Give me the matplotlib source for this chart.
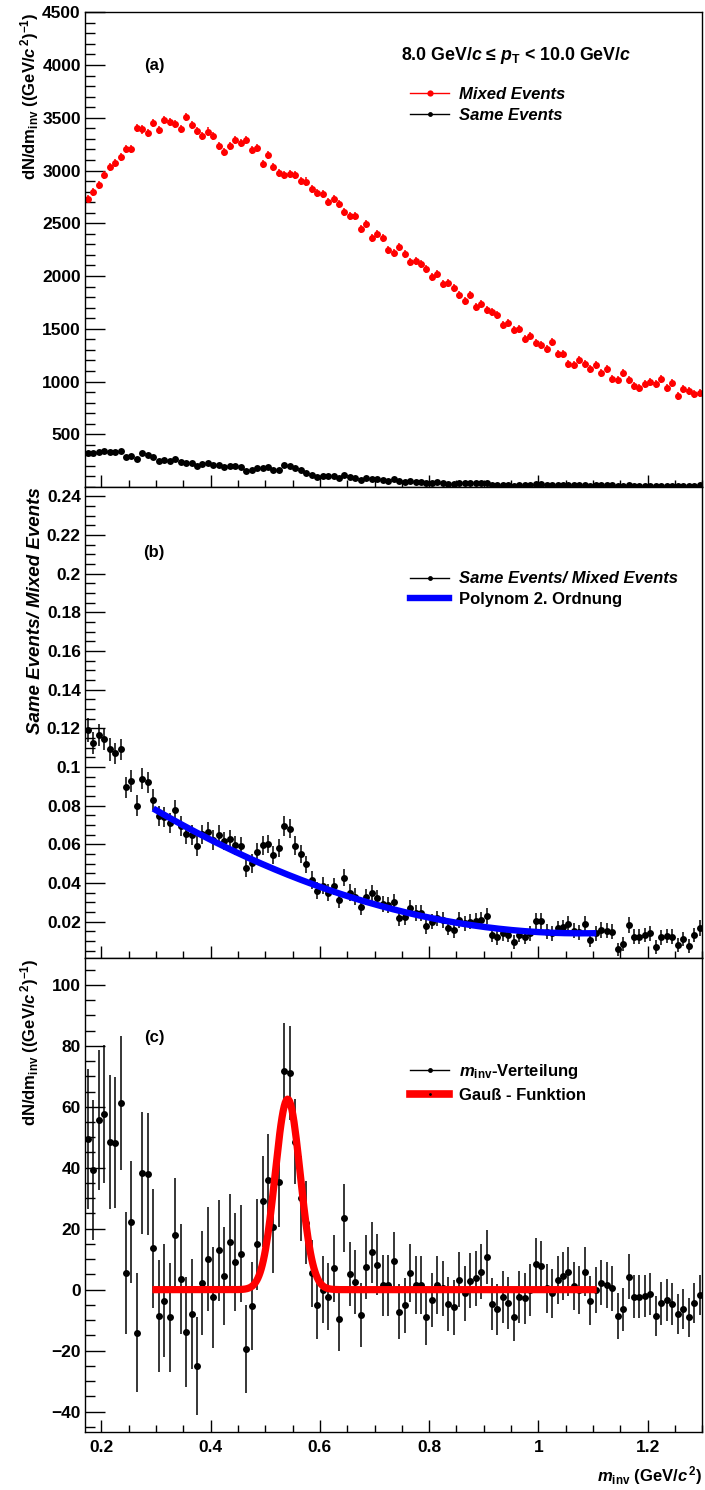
import numpy as np
import matplotlib
matplotlib.use('Agg')
import matplotlib.pyplot as plt
from matplotlib.lines import Line2D
from matplotlib.ticker import MultipleLocator, FixedLocator, FuncFormatter

plt.rcParams['font.family'] = ['Liberation Sans', 'DejaVu Sans']
plt.rcParams['font.weight'] = 'bold'
plt.rcParams['mathtext.fontset'] = 'custom'
plt.rcParams['mathtext.rm'] = 'Liberation Sans:bold'
plt.rcParams['mathtext.it'] = 'Liberation Sans:bold:italic'
plt.rcParams['mathtext.bf'] = 'Liberation Sans:bold'

# binning: 0.01 GeV/c^2 bins from 0.17 to 1.30
x_lo, bin_w, n_bins = 0.17, 0.01, 113
m_inv = x_lo + bin_w * (np.arange(n_bins) + 0.5)

# (a) mixed and same event distributions
mixed = [2728, 2801, 2867, 2962, 3035, 3070, 3130, 3200, 3200, 3399,
         3389, 3358, 3446, 3383, 3478, 3456, 3443, 3392, 3503, 3430,
         3377, 3332, 3370, 3332, 3228, 3180, 3237, 3288, 3260, 3288,
         3190, 3212, 3066, 3146, 3038, 2978, 2959, 2965, 2959, 2902,
         2896, 2823, 2785, 2782, 2699, 2734, 2687, 2608, 2570, 2570,
         2443, 2491, 2361, 2399, 2357, 2246, 2221, 2278, 2208, 2132,
         2145, 2110, 2062, 1993, 2018, 1929, 1936, 1888, 1818, 1765,
         1818, 1707, 1732, 1682, 1660, 1631, 1533, 1558, 1485, 1498,
         1406, 1428, 1365, 1343, 1311, 1374, 1257, 1257, 1168, 1159,
         1200, 1168, 1121, 1156, 1083, 1121, 1020, 1016, 1080, 1016,
         959, 940, 972, 991, 979, 1020, 940, 988, 861, 931,
         909, 883, 893]
same = [320, 320, 335, 345, 329, 329, 345, 288, 297, 269,
        323, 307, 288, 250, 256, 250, 269, 240, 228, 228,
        196, 221, 228, 206, 209, 187, 196, 196, 187, 155,
        161, 180, 177, 187, 161, 164, 209, 202, 177, 164,
        136, 114, 98, 104, 101, 101, 85, 117, 92, 85,
        69, 85, 79, 76, 66, 60, 73, 54, 49, 57,
        52, 51, 37, 40, 44, 40, 33, 30, 38, 34,
        36, 35, 36, 39, 22, 19, 21, 20, 14, 20,
        17, 20, 28, 27, 19, 19, 21, 21, 22, 18,
        17, 22, 12, 16, 17, 17, 15, 6, 9, 19,
        12, 12, 13, 14, 7, 12, 12, 12, 7, 10,
        7, 12, 15]
mixed_err = 38
same_err = 12

# (b) ratio same/mixed
ratio = [0.1191, 0.1125, 0.1165, 0.1144, 0.1091, 0.1070, 0.1091, 0.0894, 0.0927, 0.0800,
         0.0939, 0.0920, 0.0831, 0.0748, 0.0739, 0.0712, 0.0779, 0.0694, 0.0652, 0.0648,
         0.0591, 0.0652, 0.0665, 0.0622, 0.0648, 0.0617, 0.0626, 0.0594, 0.0591, 0.0479,
         0.0501, 0.0558, 0.0594, 0.0601, 0.0545, 0.0582, 0.0694, 0.0681, 0.0593, 0.0548,
         0.0496, 0.0415, 0.0360, 0.0386, 0.0350, 0.0384, 0.0312, 0.0427, 0.0350, 0.0329,
         0.0278, 0.0329, 0.0350, 0.0320, 0.0290, 0.0285, 0.0302, 0.0217, 0.0222, 0.0269,
         0.0243, 0.0243, 0.0178, 0.0200, 0.0217, 0.0208, 0.0169, 0.0157, 0.0208, 0.0191,
         0.0200, 0.0205, 0.0208, 0.0231, 0.0131, 0.0119, 0.0140, 0.0131, 0.0094, 0.0131,
         0.0123, 0.0140, 0.0203, 0.0203, 0.0148, 0.0140, 0.0166, 0.0171, 0.0188, 0.0153,
         0.0145, 0.0188, 0.0105, 0.0140, 0.0157, 0.0153, 0.0148, 0.0057, 0.0083, 0.0183,
         0.0123, 0.0123, 0.0131, 0.0140, 0.0071, 0.0119, 0.0126, 0.0123, 0.0080, 0.0109,
         0.0074, 0.0131, 0.0166]
ratio_err = [0.0062, 0.0058, 0.0058, 0.0058, 0.0058, 0.0056, 0.0056, 0.0055, 0.0055, 0.0054,
             0.0054, 0.0053, 0.0053, 0.0052, 0.0052, 0.0051, 0.0051, 0.0050, 0.0050, 0.0050,
             0.0050, 0.0050, 0.0050, 0.0050, 0.0050, 0.0049, 0.0049, 0.0049, 0.0049, 0.0048,
             0.0048, 0.0048, 0.0048, 0.0048, 0.0048, 0.0048, 0.0050, 0.0050, 0.0048, 0.0047,
             0.0046, 0.0045, 0.0044, 0.0044, 0.0044, 0.0044, 0.0043, 0.0045, 0.0043, 0.0043,
             0.0042, 0.0042, 0.0042, 0.0042, 0.0042, 0.0042, 0.0042, 0.0040, 0.0040, 0.0041,
             0.0041, 0.0041, 0.0040, 0.0040, 0.0040, 0.0040, 0.0040, 0.0040, 0.0040, 0.0040,
             0.0040, 0.0040, 0.0040, 0.0041, 0.0038, 0.0038, 0.0038, 0.0038, 0.0037, 0.0038,
             0.0038, 0.0038, 0.0040, 0.0040, 0.0038, 0.0038, 0.0039, 0.0039, 0.0040, 0.0039,
             0.0039, 0.0040, 0.0037, 0.0038, 0.0039, 0.0039, 0.0039, 0.0035, 0.0036, 0.0040,
             0.0038, 0.0038, 0.0038, 0.0038, 0.0036, 0.0038, 0.0038, 0.0038, 0.0036, 0.0037,
             0.0036, 0.0038, 0.0040]
# 2nd order polynomial fit, 0.3 - 1.1
pol_par = [0.1363, -0.2270, 0.1053]
pol_range = [0.3, 1.1]

# (c) background subtracted distribution
signal = [49.5, 39.2, 55.6, 57.6, 48.4, 48.2, 61.3, 5.4, 22.1, -14.1,
          38.3, 37.8, 13.6, -8.6, -3.6, -9.1, 18.0, 3.4, -13.8, -8.0,
          -25.0, 2.1, 10.1, -2.5, 12.9, 4.5, 15.5, 9.0, 11.8, -19.5,
          -5.3, 14.9, 29.0, 36.1, 20.6, 35.4, 71.8, 71.1, 48.5, 30.0,
          22.0, 5.4, -5.1, 0.0, -2.3, 7.0, -9.7, 23.5, 5.2, 2.6,
          -8.3, 7.4, 12.3, 8.1, 1.5, 1.5, 9.4, -7.2, -5.1, 5.4,
          1.5, 1.5, -9.1, -3.4, 1.5, 0.4, -4.7, -5.8, 3.2, -1.2,
          2.9, 3.7, 5.9, 10.7, -4.7, -6.5, -2.5, -4.5, -8.9, -2.5,
          -2.9, 0.0, 8.3, 7.6, 0.4, -1.2, 3.2, 4.5, 5.9, 1.2,
          -0.1, 5.9, -3.6, -0.1, 2.3, 1.5, 0.4, -8.6, -6.5, 4.3,
          -2.3, -2.3, -2.1, -1.4, -8.6, -4.5, -3.4, -4.7, -8.0, -6.3,
          -9.1, -4.3, -1.8]
signal_err = [23, 23, 23, 22.5, 22, 21.5, 22, 20, 20, 19.5,
              20, 20, 19.5, 18.4, 18.5, 18, 18.7, 18, 18, 18,
              16, 17, 17, 16.5, 16.5, 16, 16, 16, 16, 14.5,
              14.5, 15, 15, 15, 15, 15, 15.7, 15.5, 14, 14,
              13.5, 11, 11, 11, 11, 11, 10.5, 11, 10.5, 10.5,
              10.5, 10.5, 10, 10, 10, 10, 9.5, 9, 9, 9.5,
              9.5, 9.5, 9, 9, 9.5, 9, 9, 9, 9, 9,
              9, 9, 9, 8.8, 8.5, 8.5, 8.5, 8.5, 8, 8.5,
              8.5, 8.5, 8.5, 8.5, 8, 8, 8, 8, 8, 8,
              8, 8, 8, 7.5, 7.5, 7.5, 7.5, 7.5, 7, 7.5,
              7, 7, 7, 7, 6.5, 7, 7, 7, 6.5, 6.5,
              6.5, 6.5, 6.5]
# gauss fit: amplitude, mean, sigma
gaus_par = [62.5, 0.541, 0.023]
gaus_range = [0.3, 1.1]

W, H = 705, 1490
fig = plt.figure(figsize=(W / 100, H / 100), dpi=100)

def add_panel(top, bottom):
    return fig.add_axes([85 / W, 1 - bottom / H, (702.3 - 85) / W, (bottom - top) / H])

def gfmt(v, pos):
    return ('%g' % v).replace('-', '\u2212')

def style(ax, yticks, yminor, ylim, xlabels=False):
    ax.set_xlim(0.17, 1.3)
    ax.set_ylim(*ylim)
    ax.xaxis.set_major_locator(MultipleLocator(0.2))
    ax.xaxis.set_minor_locator(MultipleLocator(0.05))
    ax.xaxis.set_major_formatter(FuncFormatter(gfmt))
    ax.yaxis.set_major_locator(FixedLocator(yticks))
    ax.yaxis.set_minor_locator(MultipleLocator(yminor))
    ax.yaxis.set_major_formatter(FuncFormatter(gfmt))
    ax.tick_params(which='both', direction='in', top=False, right=False, width=1.0)
    ax.tick_params(axis='y', which='major', length=14.5, pad=3, labelsize=12.5)
    ax.tick_params(axis='y', which='minor', length=7.5)
    ax.tick_params(axis='x', which='major', length=9, pad=6, labelsize=12.5,
                   labelbottom=xlabels)
    ax.tick_params(axis='x', which='minor', length=5)
    for s in ax.spines.values():
        s.set_linewidth(1.0)

# ---------- panel (a)
ax1 = add_panel(12.3, 487)
ax1.errorbar(m_inv, mixed, yerr=mixed_err, fmt='o', color='red', ms=5, mew=0,
             elinewidth=1.1, capsize=0)
ax1.errorbar(m_inv, same, yerr=same_err, fmt='o', color='black', ms=5, mew=0,
             elinewidth=1.1, capsize=0)
style(ax1, np.arange(500, 4501, 500), 100, (0, 4500))
ax1.text(0.5114, 0.908, '8.0 GeV/$c$ \u2264 $p_{\\rm T}$ < 10.0 GeV/$c$',
         transform=ax1.transAxes, fontsize=12.8, va='center', ha='left')
ax1.text(0.1118, 0.8875, '(a)', transform=ax1.transAxes, fontsize=12,
         ha='center', va='center')
h_mix = Line2D([], [], color='red', marker='o', ms=4.5, mew=0, lw=1.0)
h_same = Line2D([], [], color='black', marker='o', ms=3.5, mew=0, lw=1.0)
ax1.legend([h_mix, h_same], ['Mixed Events', 'Same Events'], loc='upper left',
           bbox_to_anchor=(0.5265, 0.842), frameon=False, borderpad=0,
           borderaxespad=0, handlelength=2.35, handletextpad=0.6,
           labelspacing=0.35, prop={'style': 'italic', 'size': 12, 'weight': 'bold'})

# ---------- panel (b)
ax2 = add_panel(487, 958)
ax2.errorbar(m_inv, ratio, yerr=ratio_err, fmt='o', color='black', ms=5, mew=0,
             elinewidth=1.1, capsize=0)
xp = np.linspace(pol_range[0], pol_range[1], 200)
ax2.plot(xp, pol_par[0] + pol_par[1] * xp + pol_par[2] * xp ** 2, color='blue',
         lw=4.6, zorder=4)
style(ax2, np.arange(0.02, 0.2401, 0.02), 0.005, (0.0012, 0.2448))
ax2.text(0.1118, 0.8605, '(b)', transform=ax2.transAxes, fontsize=12,
         ha='center', va='center')
h_rat = Line2D([], [], color='black', marker='o', ms=3.5, mew=0, lw=1.0)
h_pol = Line2D([], [], color='blue', lw=4.6)
leg2 = ax2.legend([h_rat, h_pol], ['Same Events/ Mixed Events', 'Polynom 2. Ordnung'],
                  loc='upper left', bbox_to_anchor=(0.5265, 0.8206), frameon=False,
                  borderpad=0, borderaxespad=0, handlelength=2.35, handletextpad=0.6,
                  labelspacing=0.35, prop={'size': 12, 'weight': 'bold'})
leg2.get_texts()[0].set_style('italic')

# ---------- panel (c)
ax3 = add_panel(958, 1432)
ax3.errorbar(m_inv, signal, yerr=signal_err, fmt='o', color='black', ms=5, mew=0,
             elinewidth=1.1, capsize=0)
xg = np.linspace(gaus_range[0], gaus_range[1], 400)
ax3.plot(xg, gaus_par[0] * np.exp(-0.5 * ((xg - gaus_par[1]) / gaus_par[2]) ** 2),
         color='red', lw=5.2, zorder=4)
style(ax3, np.arange(-40, 101, 20), 5, (-46.7, 108.8), xlabels=True)
ax3.text(0.1118, 0.8333, '(c)', transform=ax3.transAxes, fontsize=12,
         ha='center', va='center')
h_sig = Line2D([], [], color='black', marker='o', ms=3.5, mew=0, lw=1.0)
h_gau = Line2D([], [], color='red', lw=5.5, marker='.', mfc='black', mec='black', ms=2)
ax3.legend([h_sig, h_gau], [r'$m_{\rm inv}$-Verteilung', 'Gau\u00df - Funktion'],
           loc='upper left', bbox_to_anchor=(0.5265, 0.781), frameon=False,
           borderpad=0, borderaxespad=0, handlelength=2.35, handletextpad=0.6,
           labelspacing=0.45, prop={'size': 12, 'weight': 'bold'})

# axis titles
ytitle = r'dN/dm$_{\rm inv}$ ((GeV/$c^{\,2}$)$^{-1}$)'
fig.text(30 / W, 1 - 12 / H, ytitle, rotation=90, ha='center', va='top', fontsize=12)
fig.text(36 / W, 1 - 487 / H, 'Same Events/ Mixed Events', rotation=90, ha='center',
         va='top', fontsize=13.5, style='italic')
fig.text(30 / W, 1 - 958 / H, ytitle, rotation=90, ha='center', va='top', fontsize=12)
fig.text(702 / W, 1 - 1476 / H, r'$m_{\rm inv}$ (GeV/$c^{\,2}$)', ha='right',
         va='center', fontsize=12)

fig.savefig('out.png', dpi=100)
